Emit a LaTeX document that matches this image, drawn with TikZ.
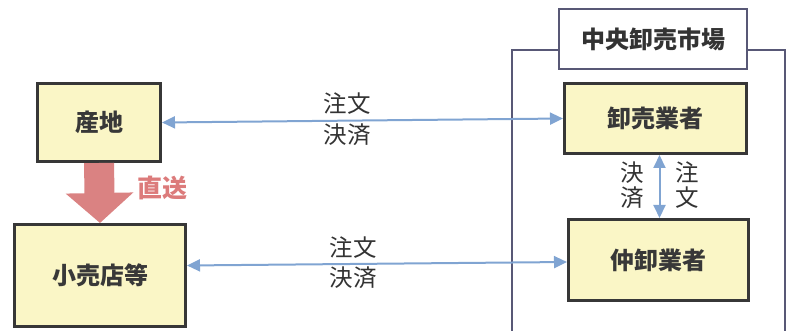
\documentclass[tikz,border=0pt]{standalone}
\usepackage{fontspec}
\newfontfamily\jp{Noto Sans CJK JP}
\usetikzlibrary{arrows.meta}
\definecolor{boxfill}{RGB}{250,246,198}
\definecolor{boxline}{RGB}{55,55,55}
\definecolor{flowblue}{RGB}{128,164,210}
\definecolor{sendred}{RGB}{218,130,130}
\definecolor{framegray}{RGB}{88,88,118}
\begin{document}
\begin{tikzpicture}[x=1pt,y=-1pt,flow/.style={flowblue,line
        width=2pt,{Triangle[length=13pt,width=12pt]}-{Triangle[length=13pt,width=12pt]}},
        lbl/.style={font=\jp\fontsize{23.5}{25}\selectfont,text=black!80,align=center,inner
        sep=0pt}]
    \useasboundingbox (0,0) rectangle (787,331);

    % the market
    \draw[framegray,line width=1.5pt] (512,331) -- (512,50) -- (785,50) -- (785,331);
    \node[draw=framegray,fill=white,line width=1.5pt,minimum width=188pt,minimum
      height=60pt,inner sep=0pt,font=\jp\bfseries\fontsize{24}{26}\selectfont,text=black!80]
      (market) at (653,39) {中央卸売市場};

    % the boxes
    \tikzstyle{element}=[rectangle,draw=boxline,line width=3pt,fill=boxfill,inner
      sep=0pt,font=\jp\bfseries\fontsize{24}{26}\selectfont,text=black!78]

    \node[element,minimum width=123pt,minimum height=78pt] (santi) at (99,122.5) {産地};
    \node[element,minimum width=171pt,minimum height=102pt] (kouri) at (100,275.5) {小売店等};
    \node[element,minimum width=182pt,minimum height=70pt] (oroshi) at (655.5,118.5) {卸売業者};
    \node[element,minimum width=180pt,minimum height=81pt] (naka) at (658.5,260) {仲卸業者};

    % the flows
    \draw[sendred,line width=30pt,-{Triangle[length=30pt,width=66pt]}] (santi.south) -- (kouri.north);
    \node[font=\jp\bfseries\fontsize{25}{28}\selectfont,text=sendred!95!red,anchor=west]
      (direct) at (134,188) {直送};

    \draw[flow] (santi.east) -- (oroshi.west);
    \draw[flow] ([yshift=10pt]kouri.east) -- ([yshift=-2pt]naka.west);
    \draw[flow] ([xshift=4pt]oroshi.south) -- ([xshift=1pt]naka.north);

    \node[lbl] (order1) at (347,104) {注文};
    \node[lbl] (pay1) at (347,135) {決済};
    \node[lbl] (order2) at (353,248) {注文};
    \node[lbl] (pay2) at (353,278) {決済};
    \node[lbl] (pay3) at (632,185) {決\\済};
    \node[lbl] (order3) at (687,185) {注\\文};

  \end{tikzpicture}
\end{document}
